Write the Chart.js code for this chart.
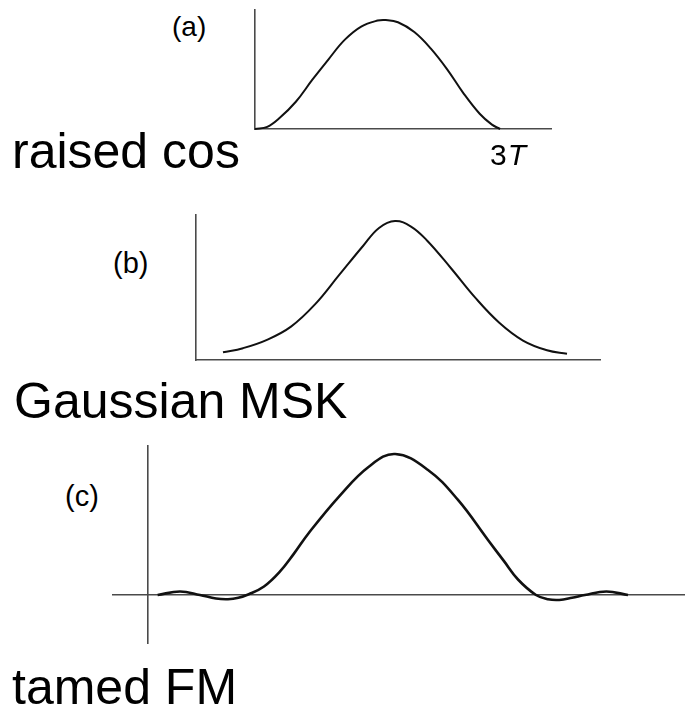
<!DOCTYPE html>
<html>
<head>
<meta charset="utf-8">
<script src="https://cdn.jsdelivr.net/npm/chart.js@4/dist/chart.umd.min.js"></script>
<style>
  html, body { margin: 0; padding: 0; background: #fff; }
  body { width: 685px; height: 710px; position: relative; overflow: hidden; font-family: "Liberation Sans", Arial, Helvetica, sans-serif; color: #000; }
  canvas { position: absolute; }
  .lbl { position: absolute; white-space: nowrap; }
</style>
</head>
<body>
<canvas id="ca" width="335" height="145" style="left:235px;top:0px"></canvas>
<canvas id="cb" width="444" height="175" style="left:176px;top:200px"></canvas>
<canvas id="cc" width="585" height="220" style="left:100px;top:436px"></canvas>

<div class="lbl" id="la" style="left:172px;top:13px;font-size:28px;line-height:28px"></div>
<div class="lbl" id="lb" style="left:113px;top:249px;font-size:29px;line-height:29px"></div>
<div class="lbl" id="lc" style="left:65px;top:482px;font-size:29px;line-height:29px"></div>
<div class="lbl" id="tick3T" style="left:490px;top:140px;font-size:30px;line-height:30px;letter-spacing:1px"></div>
<div class="lbl" id="na" style="left:12px;top:126px;font-size:50px;line-height:50px"></div>
<div class="lbl" id="nb" style="left:14px;top:376px;font-size:50px;line-height:50px"></div>
<div class="lbl" id="nc" style="left:12px;top:662px;font-size:50px;line-height:50px"></div>

<script>
// ---- data (time in units of T, amplitude normalised to peak) ----
const panelLabels = ['(a)', '(b)', '(c)'];
const schemeNames = ['raised cos', 'Gaussian MSK', 'tamed FM'];
const xTickNumber = '3';
const xTickUnit = 'T';

// (a) raised cosine pulse
const aT = [0, 0.15, 0.3, 0.5, 0.7, 0.9, 1.1, 1.3, 1.5, 1.6, 1.75, 1.95, 2.15, 2.35, 2.55, 2.75, 2.9, 3.0];
const aY = [0, 0.02, 0.1, 0.25, 0.45, 0.64, 0.82, 0.94, 0.995, 1.0, 0.98, 0.89, 0.74, 0.55, 0.33, 0.14, 0.04, 0];

// (b) Gaussian MSK pulse
const bT = [-2.15, -1.9, -1.6, -1.3, -1.0, -0.7, -0.4, -0.2, 0, 0.2, 0.4, 0.7, 1.0, 1.3, 1.6, 1.9, 2.15];
const bY = [0.055, 0.085, 0.145, 0.24, 0.40, 0.61, 0.82, 0.95, 1.0, 0.96, 0.86, 0.66, 0.45, 0.27, 0.14, 0.07, 0.045];

// (c) tamed FM pulse
const cT = [0.12, 0.4, 0.65, 0.85, 1.0, 1.13, 1.26, 1.45, 1.64, 1.82, 2.01, 2.39, 2.76, 3.09, 3.5, 3.875, 4.25, 4.45, 4.625, 4.85, 5.0, 5.14, 5.3, 5.46, 5.73, 6.0];
const cY = [0, 0.025, 0, -0.025, -0.03, -0.02, 0.005, 0.06, 0.16, 0.29, 0.44, 0.70, 0.91, 1.0, 0.887, 0.674, 0.39, 0.24, 0.11, 0.0, -0.03, -0.035, -0.02, 0, 0.025, 0];

// ---- text ----
document.getElementById('la').textContent = panelLabels[0];
document.getElementById('lb').textContent = panelLabels[1];
document.getElementById('lc').textContent = panelLabels[2];
document.getElementById('na').textContent = schemeNames[0];
document.getElementById('nb').textContent = schemeNames[1];
document.getElementById('nc').textContent = schemeNames[2];
(function () {
  const el = document.getElementById('tick3T');
  el.appendChild(document.createTextNode(xTickNumber));
  const i = document.createElement('i');
  i.textContent = xTickUnit;
  el.appendChild(i);
})();

const toPts = (xs, ys) => xs.map((x, i) => ({ x: x, y: ys[i] }));
const AXIS = '#4a4a4a';

function axisOpts(min, max, position) {
  return {
    type: 'linear', min: min, max: max, position: position,
    grid: { display: false, drawTicks: false },
    ticks: { display: false },
    border: { display: true, color: AXIS, width: 1.6 },
    title: { display: false }
  };
}

function makeChart(id, xs, ys, lw, pad, xr, yr, xPos, yPos) {
  return new Chart(document.getElementById(id), {
    type: 'line',
    data: {
      datasets: [{
        data: toPts(xs, ys),
        borderColor: '#111',
        borderWidth: lw,
        pointRadius: 0,
        fill: false,
        clip: false,
        tension: 0.4
      }]
    },
    options: {
      responsive: false,
      animation: false,
      devicePixelRatio: 1,
      events: [],
      layout: { padding: pad, autoPadding: false },
      plugins: { legend: { display: false }, tooltip: { enabled: false }, title: { display: false } },
      scales: {
        x: axisOpts(xr[0], xr[1], xPos),
        y: axisOpts(yr[0], yr[1], yPos)
      }
    }
  });
}

makeChart('ca', aT, aY, 2, { left: 20, top: 10, right: 19, bottom: 16 },
  [0, 3.623], [0, 1.092], 'bottom', 'left');
makeChart('cb', bT, bY, 2, { left: 20, top: 15, right: 20, bottom: 15 },
  [-2.4875, 2.5625], [0, 1.043], 'bottom', 'left');
makeChart('cc', cT, cY, 2.6, { left: 13, top: 10, right: 0, bottom: 13 },
  [-0.4375, 6.7125], [-0.3404, 1.0567], { y: 0 }, { x: 0 });
</script>
</body>
</html>
